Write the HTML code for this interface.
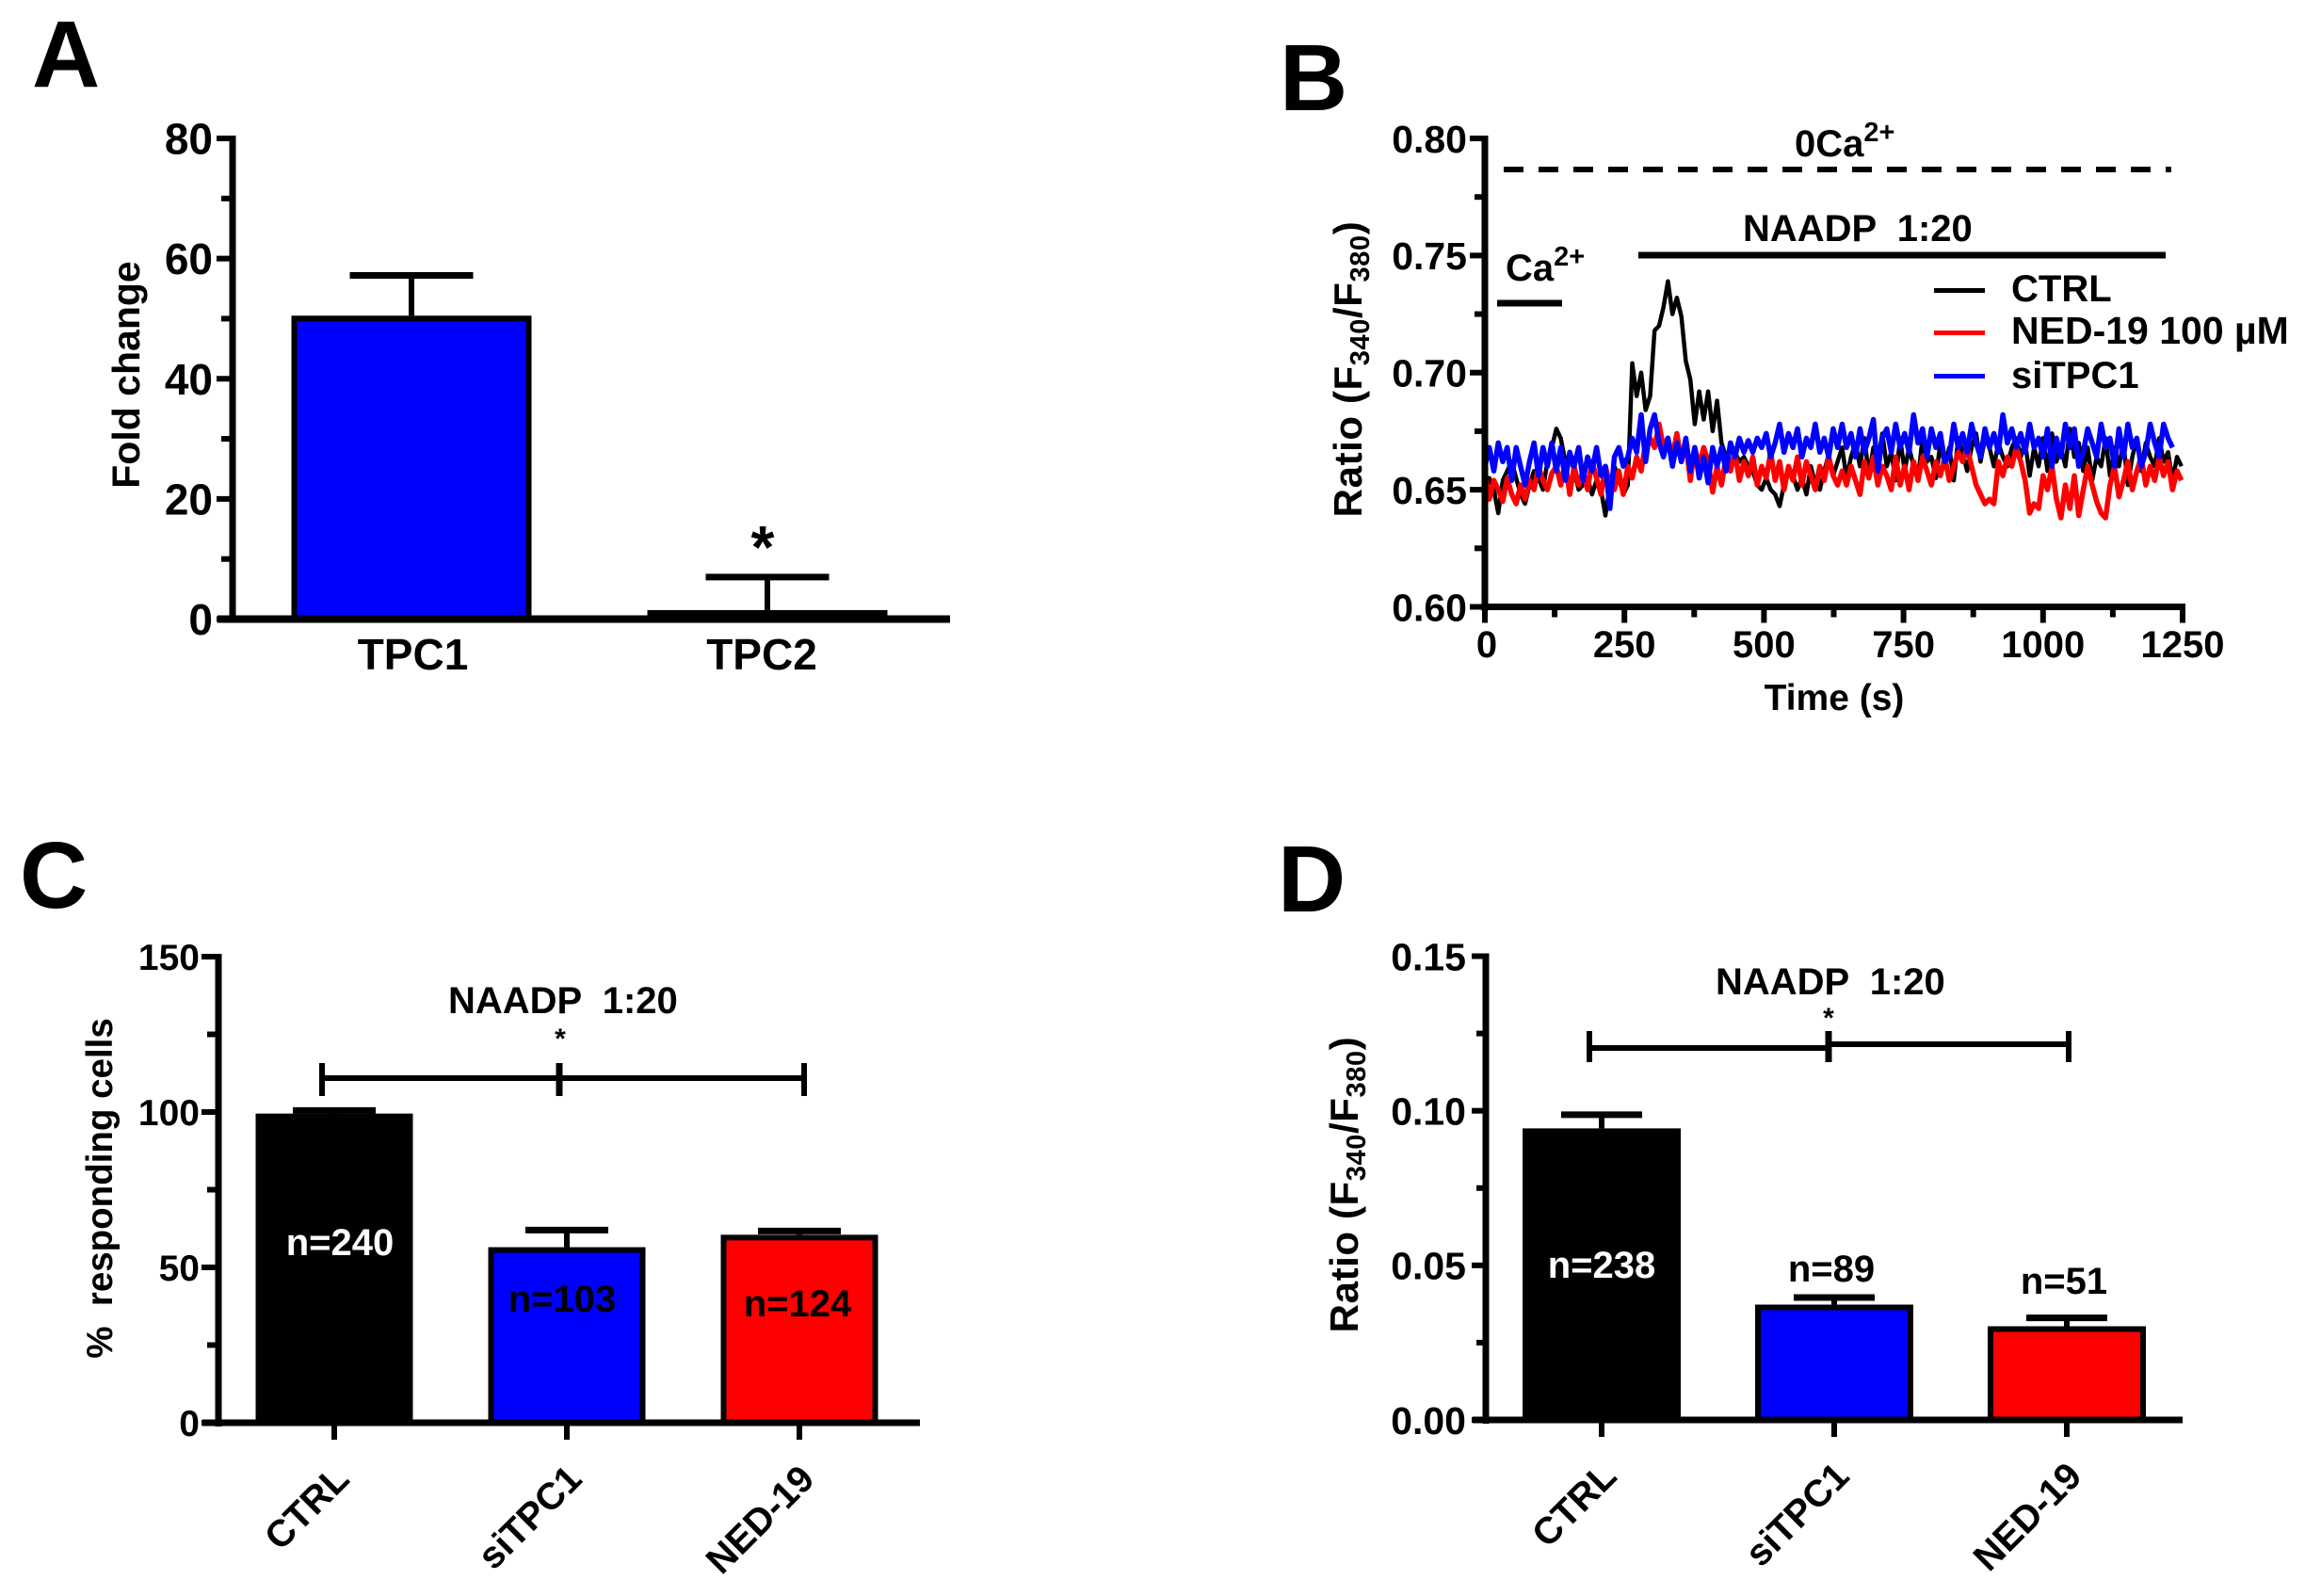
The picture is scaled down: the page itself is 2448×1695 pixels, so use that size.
<!DOCTYPE html>
<html lang="en">
<head>
<meta charset="utf-8">
<title>TPC1 and NAADP calcium response figure</title>
<style>
html,body{margin:0;padding:0;background:#fff;}
svg{display:block;}
text{font-family:"Liberation Sans",Arial,sans-serif;font-weight:bold;white-space:pre;}
</style>
</head>
<body>
<svg id="figure" xmlns="http://www.w3.org/2000/svg" width="2448" height="1695" viewBox="0 0 2448 1695">
  <rect x="0" y="0" width="2448" height="1695" fill="#fff"/>

  <g id="panel-a">
    <text x="34" y="92" font-size="100">A</text>
    <text transform="rotate(-90 148 398)" x="148" y="398" font-size="41" text-anchor="middle">Fold change</text>
    <text x="810" y="603" font-size="64" text-anchor="middle">*</text>
  </g>

  <g id="panel-b">
    <text x="1359" y="117" font-size="100">B</text>
    <text transform="rotate(-90 1446 392)" x="1446" y="392" font-size="42" letter-spacing="0.6" text-anchor="middle">Ratio (F<tspan font-size="29" dy="8">340</tspan><tspan dy="-8">/F</tspan><tspan font-size="29" dy="8">380</tspan><tspan dy="-8">)</tspan></text>
    <text x="1948" y="754" font-size="39" text-anchor="middle">Time (s)</text>
    <text x="1906" y="166" font-size="40">0Ca<tspan font-size="29" dy="-16">2+</tspan></text>
    <line x1="1597" y1="180" x2="2306" y2="180" stroke="#000" stroke-width="6" stroke-dasharray="21 16"/>
    <text x="1851" y="256" font-size="40">NAADP  1:20</text>
    <line x1="1740" y1="271" x2="2300" y2="271" stroke="#000" stroke-width="7"/>
    <text x="1599" y="298" font-size="40">Ca<tspan font-size="29" dy="-16">2+</tspan></text>
    <line x1="1590" y1="322" x2="1659" y2="322" stroke="#000" stroke-width="7"/>
    <g id="b-traces"></g>
    <g>
      <line x1="2054" y1="308.5" x2="2108" y2="308.5" stroke="#000" stroke-width="5"/>
      <text x="2136" y="320" font-size="40">CTRL</text>
      <line x1="2054" y1="353.5" x2="2108" y2="353.5" stroke="#f00" stroke-width="5"/>
      <text x="2136" y="365" font-size="41">NED-19 100 µM</text>
      <line x1="2054" y1="399.5" x2="2108" y2="399.5" stroke="#00f" stroke-width="5"/>
      <text x="2136" y="412" font-size="40">siTPC1</text>
    </g>
  </g>

  <g id="panel-c">
    <text x="21" y="964" font-size="100">C</text>
    <text transform="rotate(-90 119 1262)" x="119" y="1262" font-size="38.5" text-anchor="middle">%  responding cells</text>
    <text x="476" y="1076" font-size="40">NAADP  1:20</text>
    <text x="595" y="1113" font-size="30" text-anchor="middle">*</text>
    <line x1="342" y1="1145" x2="854" y2="1145" stroke="#000" stroke-width="6"/>
    <line x1="342" y1="1129" x2="342" y2="1164" stroke="#000" stroke-width="6"/>
    <line x1="594" y1="1129" x2="594" y2="1164" stroke="#000" stroke-width="7"/>
    <line x1="854" y1="1129" x2="854" y2="1164" stroke="#000" stroke-width="6"/>
  </g>

  <g id="panel-d">
    <text x="1357" y="968" font-size="100">D</text>
    <text transform="rotate(-90 1442 1258)" x="1442" y="1258" font-size="42" letter-spacing="0.6" text-anchor="middle">Ratio (F<tspan font-size="29" dy="8">340</tspan><tspan dy="-8">/F</tspan><tspan font-size="29" dy="8">380</tspan><tspan dy="-8">)</tspan></text>
    <text x="1822" y="1056" font-size="40">NAADP  1:20</text>
    <text x="1942" y="1091" font-size="30" text-anchor="middle">*</text>
    <line x1="1688" y1="1113" x2="1942" y2="1113" stroke="#000" stroke-width="6"/>
    <line x1="1942" y1="1109" x2="2197" y2="1109" stroke="#000" stroke-width="6"/>
    <line x1="1688" y1="1095" x2="1688" y2="1128" stroke="#000" stroke-width="6"/>
    <line x1="1942" y1="1095" x2="1942" y2="1128" stroke="#000" stroke-width="7"/>
    <line x1="2197" y1="1095" x2="2197" y2="1128" stroke="#000" stroke-width="6"/>
  </g>
</svg>

<script>
// Panel A data
const aCategories = ['TPC1', 'TPC2'];
const aValues = [50.5, 1.5];
const aErrors = [6.7, 5.5];
const aTickValues = [0, 20, 40, 60, 80];
const aTickLabels = ['0', '20', '40', '60', '80'];
const aMinorTicks = [10, 30, 50, 70];

// Panel C data
const cCategories = ['CTRL', 'siTPC1', 'NED-19'];
const cValues = [99.5, 56.5, 60.5];
const cErrors = [1, 5.5, 1.2];
const cTickValues = [0, 50, 100, 150];
const cTickLabels = ['0', '50', '100', '150'];
const cMinorTicks = [25, 75, 125];

// Panel D data
const dCategories = ['CTRL', 'siTPC1', 'NED-19'];
const dValues = [0.0943, 0.0373, 0.0303];
const dErrors = [0.0044, 0.0023, 0.0027];
const dTickValues = [0, 0.05, 0.10, 0.15];
const dTickLabels = ['0.00', '0.05', '0.10', '0.15'];
const dMinorTicks = [0.025, 0.075, 0.125];

// Panel B data: one reading every 8 s
const bSampleSeconds = 8;
const bTickValues = [0.60, 0.65, 0.70, 0.75, 0.80];
const bTickLabels = ['0.60', '0.65', '0.70', '0.75', '0.80'];
const bMinorTicks = [0.625, 0.675, 0.725, 0.775];
const bTimeTicks = [0, 250, 500, 750, 1000, 1250];
const bTimeLabels = ['0', '250', '500', '750', '1000', '1250'];
const bTimeMinor = [125, 375, 625, 875, 1125];

const ctrlTrace = [
.648,.655,.650,.640,.654,.658,.662,.655,.648,.644,
.652,.658,.655,.650,.662,.668,.676,.672,.662,.665,
.658,.650,.652,.655,.648,.654,.650,.639,.652,.660,
.655,.648,.652,.704,.690,.700,.684,.690,.718,.720,
.728,.739,.725,.732,.724,.705,.697,.678,.692,.680,
.692,.675,.688,.670,.664,.660,.666,.662,.664,.660,
.658,.652,.650,.655,.650,.648,.643,.652,.660,.656,
.650,.655,.648,.660,.652,.650,.658,.665,.656,.662,
.668,.655,.664,.670,.660,.672,.656,.668,.662,.674,
.660,.666,.654,.672,.658,.668,.660,.655,.672,.662,
.664,.655,.670,.660,.668,.654,.672,.666,.658,.668,
.674,.662,.672,.668,.660,.670,.664,.660,.668,.672,
.664,.670,.656,.668,.660,.672,.658,.674,.662,.668,
.660,.676,.664,.670,.658,.668,.654,.664,.660,.672,
.656,.668,.660,.670,.652,.664,.672,.658,.670,.664,
.660,.672,.662,.666,.654,.664,.660];

const ned19Trace = [
.657,.646,.654,.650,.645,.655,.648,.644,.652,.646,
.654,.650,.660,.654,.650,.657,.660,.652,.662,.648,
.660,.652,.658,.650,.662,.655,.648,.660,.652,.650,
.658,.648,.660,.655,.664,.658,.670,.672,.668,.678,
.668,.672,.664,.674,.662,.670,.654,.668,.660,.668,
.662,.649,.660,.652,.664,.658,.666,.654,.662,.656,
.664,.652,.660,.655,.666,.654,.662,.650,.660,.654,
.664,.652,.662,.656,.650,.660,.654,.664,.656,.652,
.658,.652,.660,.654,.648,.662,.655,.664,.652,.660,
.656,.650,.664,.652,.660,.650,.662,.654,.664,.658,
.652,.662,.656,.664,.654,.660,.666,.662,.668,.660,
.652,.648,.644,.646,.644,.662,.656,.664,.660,.668,
.662,.654,.640,.644,.642,.656,.650,.660,.646,.638,
.652,.642,.656,.639,.650,.660,.652,.645,.640,.638,
.652,.660,.647,.654,.662,.650,.658,.664,.652,.660,
.654,.664,.656,.662,.650,.658,.654];

const siTpc1Trace = [
.660,.668,.658,.670,.662,.668,.654,.668,.660,.652,
.662,.670,.656,.668,.660,.670,.658,.668,.654,.666,
.660,.668,.654,.664,.658,.668,.656,.660,.642,.664,
.668,.660,.664,.672,.666,.682,.662,.676,.682,.670,
.664,.672,.660,.670,.662,.672,.658,.668,.655,.664,
.653,.668,.660,.668,.658,.670,.664,.672,.666,.671,
.666,.672,.668,.674,.664,.670,.678,.666,.674,.668,
.676,.664,.672,.668,.678,.666,.672,.664,.676,.668,
.678,.668,.674,.664,.676,.666,.672,.680,.658,.672,
.676,.666,.678,.668,.674,.666,.682,.670,.676,.664,
.676,.668,.674,.662,.664,.678,.668,.674,.666,.678,
.670,.664,.676,.668,.674,.666,.682,.670,.676,.668,
.674,.666,.678,.668,.672,.664,.676,.660,.672,.664,
.678,.668,.676,.660,.666,.676,.670,.664,.678,.668,
.672,.660,.676,.664,.678,.668,.672,.660,.666,.678,
.670,.664,.678,.672,.668];

const SVGNS = 'http://www.w3.org/2000/svg';
function mk(parent, tag, attrs, content) {
  const el = document.createElementNS(SVGNS, tag);
  for (const k in attrs) el.setAttribute(k, attrs[k]);
  if (content !== undefined) el.textContent = content;
  parent.appendChild(el);
  return el;
}
function linear(d0, d1, r0, r1) {
  return function (v) { return r0 + (v - d0) * (r1 - r0) / (d1 - d0); };
}

function drawYAxis(g, y, spec, majors, labels, minors) {
  const axis = mk(g, 'line', {x1: spec.x, y1: y(majors[0]) + 4, x2: spec.x, y2: y(majors[majors.length - 1]) - 3, stroke: '#000', 'stroke-width': spec.width});
  
  
  majors.forEach(function (v, i) {
    const t = mk(g, 'line', {x1: spec.x - spec.major, y1: y(v), x2: spec.x, y2: y(v), stroke: '#000', 'stroke-width': 6});
    
    
    const l = mk(g, 'text', {x: spec.labelX, y: y(v) + spec.font * 0.36, 'font-size': spec.font, 'text-anchor': 'end'}, labels[i]);
    
    
  });
  minors.forEach(function (v) {
    const t = mk(g, 'line', {x1: spec.x - spec.minor, y1: y(v), x2: spec.x, y2: y(v), stroke: '#000', 'stroke-width': 6});
    
    
  });
}

function drawBars(g, y, spec, categories, values, errors, colors) {
  values.forEach(function (v, i) {
    const cx = spec.first + i * spec.step;
    const stem = mk(g, 'line', {x1: cx, y1: y(v), x2: cx, y2: y(v + errors[i]), stroke: '#000', 'stroke-width': 6});
    
    
    const cap = mk(g, 'line', {x1: cx - spec.cap / 2, y1: y(v + errors[i]), x2: cx + spec.cap / 2, y2: y(v + errors[i]), stroke: '#000', 'stroke-width': 7});
    
    
    const bar = mk(g, 'rect', {x: cx - spec.bar / 2 + 3, y: y(v) + 3, width: spec.bar - 6, height: Math.max(y(0) - y(v) - 3, 0), fill: colors[i], stroke: '#000', 'stroke-width': 6});
    
    
  });
}

function drawXBase(g, y, spec) {
  const axis = mk(g, 'line', {x1: spec.left, y1: y(0), x2: spec.right, y2: y(0), stroke: '#000', 'stroke-width': spec.width});
  
  
}

function drawRotatedCategories(g, y, spec, categories) {
  categories.forEach(function (c, i) {
    const cx = spec.first + i * spec.step;
    const t = mk(g, 'line', {x1: cx, y1: y(0), x2: cx, y2: y(0) + 18, stroke: '#000', 'stroke-width': 6});
    
    
    const ex = cx + 18;
    const ey = y(0) + 62;
    const l = mk(g, 'text', {x: ex, y: ey, 'font-size': 40, 'text-anchor': 'end', transform: 'rotate(-45 ' + ex + ' ' + ey + ')'}, c);
    
    
  });
}

function drawCount(g, text, x, baseline, color) {
  const l = mk(g, 'text', {x: x, y: baseline, 'font-size': 40, 'text-anchor': 'middle', fill: color}, text);
  
  
}

// ---- Panel A ----
(function () {
  const g = document.getElementById('panel-a');
  const y = linear(0, 80, 657.5, 147);
  const spec = {first: 437, step: 378, bar: 255, cap: 131};
  drawBars(g, y, spec, aCategories, aValues, aErrors, ['#00f', '#00f']);
  drawYAxis(g, y, {x: 247, width: 7, major: 17, minor: 12, labelX: 226, font: 46}, aTickValues, aTickLabels, aMinorTicks);
  drawXBase(g, y, {left: 231, right: 1009, width: 8});
  aCategories.forEach(function (c, i) {
    const l = mk(g, 'text', {x: 438.5 + i * 370.5, y: 711, 'font-size': 46, 'text-anchor': 'middle'}, c);
    
    
  });
})();

// ---- Panel B ----
(function () {
  const g = document.getElementById('panel-b');
  const traces = document.getElementById('b-traces');
  const y = linear(0.60, 0.80, 644.5, 147);
  const x = linear(0, 1250, 1577, 2318);
  drawYAxis(g, y, {x: 1577, width: 7, major: 16, minor: 11, labelX: 1558, font: 41}, bTickValues, bTickLabels, bMinorTicks);
  const axis = mk(g, 'line', {x1: x(0) - 4, y1: y(0.6), x2: x(1250) + 3, y2: y(0.6), stroke: '#000', 'stroke-width': 7});
  
  
  bTimeTicks.forEach(function (v, i) {
    const t = mk(g, 'line', {x1: x(v), y1: y(0.6), x2: x(v), y2: y(0.6) + 17, stroke: '#000', 'stroke-width': 6});
    
    
    const l = mk(g, 'text', {x: x(v) + (i === 0 ? 2 : 0), y: 698, 'font-size': 40, 'text-anchor': 'middle'}, bTimeLabels[i]);
    
    
  });
  bTimeMinor.forEach(function (v) {
    const t = mk(g, 'line', {x1: x(v), y1: y(0.6), x2: x(v), y2: y(0.6) + 11, stroke: '#000', 'stroke-width': 6});
    
    
  });
  function tracePoints(values) {
    return values.map(function (v, i) { return x(i * bSampleSeconds).toFixed(1) + ',' + y(v).toFixed(1); }).join(' ');
  }
  const ctrl = mk(traces, 'polyline', {points: tracePoints(ctrlTrace), fill: 'none', stroke: '#000', 'stroke-width': 4.5, 'stroke-linejoin': 'round'});
  
  
  const ned = mk(traces, 'polyline', {points: tracePoints(ned19Trace), fill: 'none', stroke: '#f00', 'stroke-width': 5.5, 'stroke-linejoin': 'round'});
  
  
  const si = mk(traces, 'polyline', {points: tracePoints(siTpc1Trace), fill: 'none', stroke: '#00f', 'stroke-width': 5.5, 'stroke-linejoin': 'round'});
  
  
})();

// ---- Panel C ----
(function () {
  const g = document.getElementById('panel-c');
  const y = linear(0, 150, 1511, 1016);
  const spec = {first: 355, step: 247, bar: 167, cap: 88};
  drawBars(g, y, spec, cCategories, cValues, cErrors, ['#000', '#00f', '#f00']);
  drawYAxis(g, y, {x: 232, width: 7, major: 18, minor: 12, labelX: 212, font: 39}, cTickValues, cTickLabels, cMinorTicks);
  drawXBase(g, y, {left: 215, right: 977, width: 7});
  drawRotatedCategories(g, y, spec, cCategories);
  drawCount(g, 'n=240', 361, 1333, '#fff');
  drawCount(g, 'n=103', 597, 1393, '#000');
  drawCount(g, 'n=124', 847, 1398, '#000');
})();

// ---- Panel D ----
(function () {
  const g = document.getElementById('panel-d');
  const y = linear(0, 0.15, 1508, 1015.5);
  const spec = {first: 1701, step: 247, bar: 168, cap: 86};
  drawBars(g, y, spec, dCategories, dValues, dErrors, ['#000', '#00f', '#f00']);
  drawYAxis(g, y, {x: 1578, width: 7, major: 15, minor: 10, labelX: 1557, font: 41}, dTickValues, dTickLabels, dMinorTicks);
  drawXBase(g, y, {left: 1564, right: 2318, width: 7});
  drawRotatedCategories(g, y, spec, dCategories);
  drawCount(g, 'n=238', 1701, 1357, '#fff');
  drawCount(g, 'n=89', 1945, 1361, '#000');
  drawCount(g, 'n=51', 2192, 1374, '#000');
})();
</script>
</body>
</html>
